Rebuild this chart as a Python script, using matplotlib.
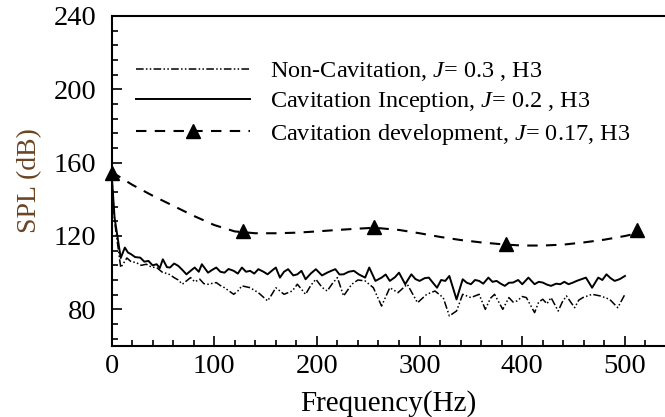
import matplotlib
matplotlib.use('Agg')
import matplotlib.pyplot as plt
from matplotlib.ticker import MultipleLocator

plt.rcParams['font.family'] = 'Liberation Serif'
plt.rcParams['mathtext.fontset'] = 'custom'
plt.rcParams['mathtext.rm'] = 'Liberation Serif'
plt.rcParams['mathtext.it'] = 'Liberation Serif:italic'

# Cavitation development (smooth dashed curve + triangle points)
dev_freq = [0, 20, 40, 60, 80, 100, 120, 140, 160, 180, 200, 220, 240, 256, 280, 300,
            320, 340, 360, 384, 400, 420, 440, 460, 480, 500, 512]
dev_spl = [155, 148, 142, 136.5, 131, 126, 122.5, 121.5, 121.5, 121.8, 122.5, 123.3, 124, 124.5,
           123.3, 121.5, 119.5, 117.8, 116.5, 115.3, 114.8, 114.8, 115.3, 116.5, 118, 120, 121.5]
dev_pts_freq = [0, 128, 256, 384, 512]
dev_pts_spl = [154.5, 122.5, 125, 115.5, 123]

# Cavitation inception (solid)
inc_freq = [0, 3, 9, 13, 16, 19, 23, 28, 32, 36, 40, 44, 47, 50, 54, 57, 61, 65, 69, 73, 77, 81,
            85, 88, 94, 98, 102, 106, 110, 114, 119, 123, 127, 131, 135, 139, 143, 148, 152, 156,
            160, 164, 168, 172, 177, 181, 185, 189, 194, 199, 205, 210, 214, 218, 222, 226, 231,
            236, 241, 247, 251, 257, 263, 267, 271, 276, 280, 286, 292, 296, 300, 305, 309, 313,
            317, 321, 325, 329, 336, 342, 346, 350, 354, 358, 362, 367, 371, 375, 379, 383, 387,
            391, 396, 400, 406, 412, 416, 420, 424, 428, 433, 437, 441, 445, 449, 453, 458, 462,
            468, 474, 478, 482, 486, 490, 495, 500]
inc_spl = [155, 130, 108, 113.7, 111, 110.1, 108.5, 108.2, 106, 106.4, 104, 104.6, 102.5, 107.3,
           103, 102.8, 105, 103.7, 101.5, 99.1, 101, 102.8, 100.5, 104.6, 100, 101.5, 102.8, 100.5,
           100, 102, 101, 99.5, 102.8, 100.5, 101, 99.5, 101.9, 100.5, 99.1, 101, 102.8, 97.3,
           100.5, 101.9, 98.5, 99.1, 101, 96.4, 99.5, 101.9, 98.5, 100, 101, 101.9, 99, 99.1,
           100.5, 101, 99, 97.3, 102.8, 95.5, 97.3, 99, 95.5, 97.5, 100, 93.7, 99.1, 96.5, 95.5,
           97, 97.3, 94.5, 91.8, 96, 95.5, 98.2, 85.4, 96.4, 94.5, 93.7, 96, 95.5, 94, 97.3, 95,
           95.5, 94, 92.8, 94.5, 94.6, 96, 93.7, 97.3, 93.7, 95, 94.6, 93.5, 92.8, 94, 93.7, 95,
           93.7, 94.5, 95.5, 96.5, 97.3, 91.8, 97.3, 96, 99.1, 97, 95.5, 96.5, 98.2]

# Non-cavitation (dash-dot-dot)
non_freq = [0, 3, 9, 15, 19, 24, 29, 34, 39, 44, 50, 55, 61, 65, 69, 77, 81, 86, 90, 94, 102,
            106, 110, 119, 123, 127, 135, 143, 152, 156, 160, 168, 176, 181, 189, 194, 199, 205,
            210, 215, 220, 226, 234, 240, 247, 255, 263, 271, 279, 288, 298, 307, 315, 323, 329,
            336, 342, 350, 358, 364, 369, 373, 381, 387, 391, 395, 400, 404, 412, 416, 420, 424,
            428, 435, 439, 443, 451, 455, 459, 468, 476, 485, 493, 500]
non_spl = [155, 128, 102.8, 108, 106, 105.5, 104, 104.6, 103, 102.8, 100, 99.5, 97.3, 96, 93.7,
           97.3, 95, 96.4, 94, 93.7, 94.6, 93, 91.8, 88.2, 90, 92.8, 91.8, 89.1, 84.6, 88, 91.8,
           88.2, 90, 93.7, 88.2, 93, 96.4, 92, 90, 94, 97.3, 87.3, 93.7, 96, 95.5, 91.8, 81.8,
           91.8, 89.1, 93.7, 83.6, 88.2, 90, 86.4, 76.4, 79.1, 88.2, 86.4, 88.2, 80, 86, 88.2, 80,
           86.4, 84, 84.6, 87, 86.4, 78.2, 84, 85.5, 83, 86.4, 79.1, 84, 87.3, 80.9, 85, 86.4,
           88.2, 87.3, 85.5, 80.9, 88.2]

labels = ['Non-Cavitation, $J$= 0.3 , H3',
          'Cavitation Inception, $J$= 0.2 , H3',
          'Cavitation development, $J$= 0.17, H3']

fig = plt.figure(figsize=(6.65, 4.17), dpi=100)
ax = fig.add_axes([111.5 / 665, 1 - 346 / 417, 1 - 111.5 / 665, 330 / 417])

ax.plot(non_freq, non_spl, color='black', lw=1.1,
        linestyle=(0, (5, 1.5, 1, 1.5, 1, 1.5)), label=labels[0])
ax.plot(inc_freq, inc_spl, color='black', lw=1.4, label=labels[1])
ax.plot(dev_freq, dev_spl, color='black', lw=1.5, linestyle=(0, (5, 4)))
ax.plot(dev_pts_freq, dev_pts_spl, linestyle='none', marker='^', ms=10, color='black',
        clip_on=False)
# legend proxy for the development series
ax.plot([], [], color='black', lw=1.5, linestyle=(0, (5, 4)), marker='^', ms=10,
        label=labels[2])

ax.set_xlim(0, 539)
ax.set_ylim(60, 240)
ax.xaxis.set_major_locator(MultipleLocator(100))
ax.xaxis.set_minor_locator(MultipleLocator(20))
ax.yaxis.set_minor_locator(MultipleLocator(8))
ax.set_yticks([80, 120, 160, 200, 240])
ax.tick_params(which='both', direction='in', width=1.2, labelsize=20.5, top=False, right=False)
ax.tick_params(which='major', length=7)
ax.tick_params(which='minor', length=4)
ax.tick_params(axis='x', pad=6)
ax.tick_params(axis='y', pad=11)
ax.spines['right'].set_visible(False)
for s in ['left', 'bottom', 'top']:
    ax.spines[s].set_linewidth(1.5)

ax.set_xlabel('Frequency(Hz)', fontsize=21, labelpad=8)
ax.set_ylabel('SPL (dB)', fontsize=20, color='#6b4423', labelpad=8)

ax.legend(loc='upper left', bbox_to_anchor=(136 / 665, 1 - 60 / 417),
          bbox_transform=fig.transFigure, frameon=False, fontsize=17.5,
          handlelength=4.7, handletextpad=0.8, labelspacing=0.3, numpoints=1,
          borderpad=0, borderaxespad=0)

plt.savefig('out.png', dpi=100)
